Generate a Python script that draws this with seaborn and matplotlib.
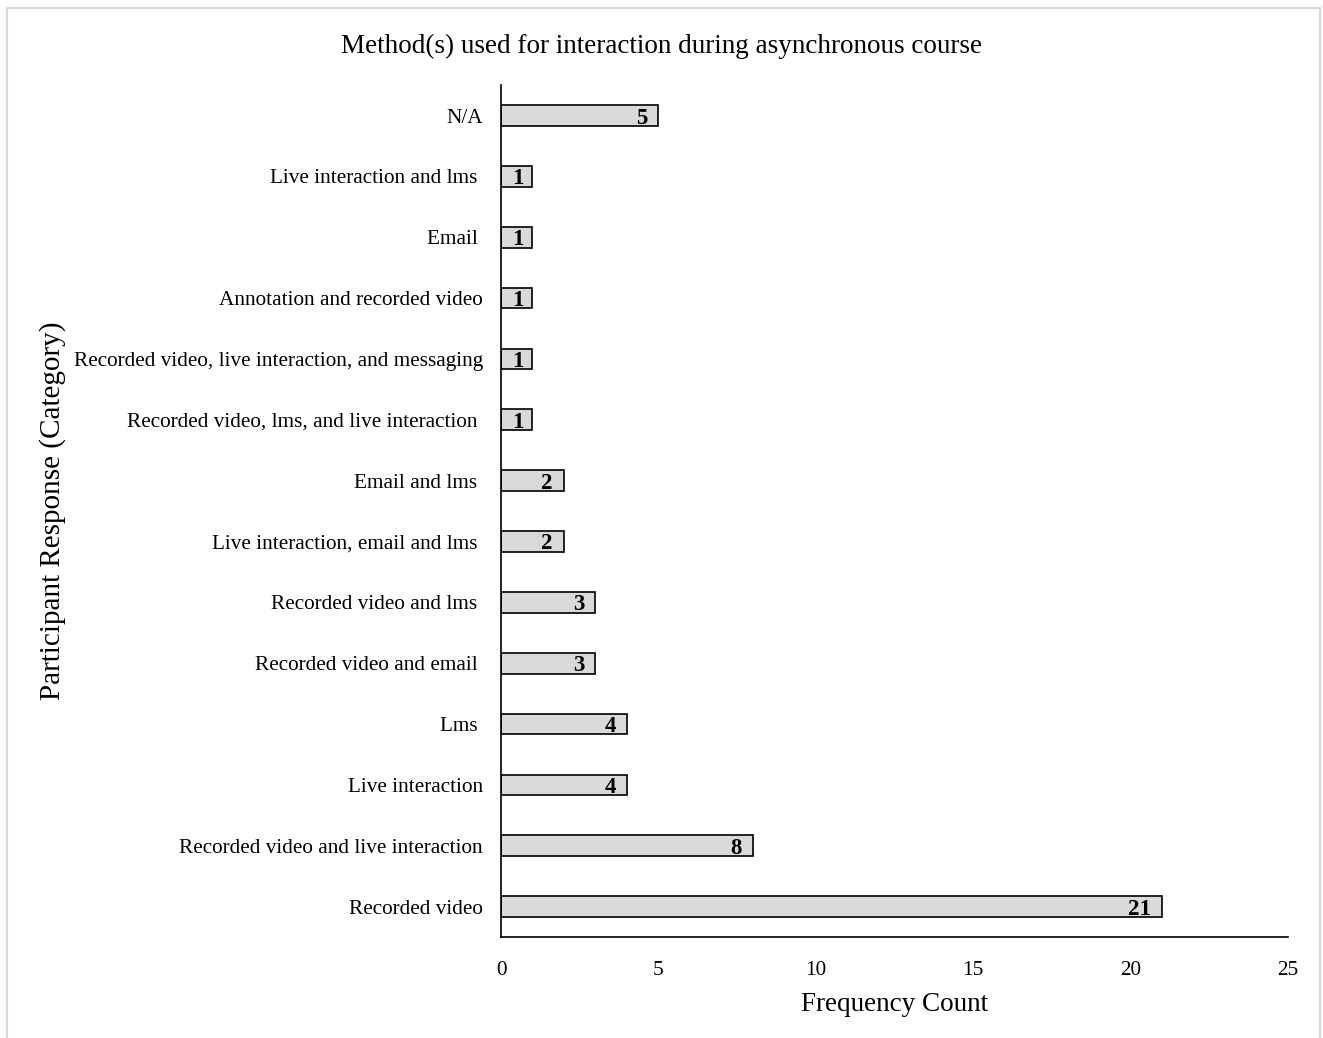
import matplotlib
matplotlib.use("Agg")
import matplotlib.pyplot as plt
import seaborn as sns
import pandas as pd
from matplotlib.patches import Rectangle
from matplotlib.transforms import offset_copy

sns.set_theme(style="white")
plt.rcParams["font.family"] = ["Liberation Serif", "DejaVu Serif"]
plt.rcParams["text.color"] = "black"
plt.rcParams["axes.labelcolor"] = "black"
plt.rcParams["xtick.color"] = "black"
plt.rcParams["ytick.color"] = "black"

# Survey responses (top to bottom) and their counts
categories = [
    "N/A",
    "Live interaction and lms ",
    "Email ",
    "Annotation and recorded video",
    "Recorded video, live interaction, and messaging",
    "Recorded video, lms, and live interaction ",
    "Email and lms ",
    "Live interaction, email and lms ",
    "Recorded video and lms ",
    "Recorded video and email ",
    "Lms ",
    "Live interaction",
    "Recorded video and live interaction",
    "Recorded video",
]
counts = [5, 1, 1, 1, 1, 1, 2, 2, 3, 3, 4, 4, 8, 21]
x_ticks = [0, 5, 10, 15, 20, 25]

df = pd.DataFrame({"category": categories, "count": counts})

fig = plt.figure(figsize=(13.23, 10.38), dpi=100)
ax = fig.add_axes([0.3787, 0.0973, 0.5948, 0.8207])

sns.barplot(data=df, y="category", x="count", order=categories,
            color="#d9d9d9", edgecolor="black", linewidth=1.2,
            width=0.34, saturation=1, ax=ax)

ax.set_xlim(0, 25)
ax.set_ylim(len(categories) - 0.5, -0.5)
ax.set_xticks(x_ticks)
ax.set_xticklabels([str(t) for t in x_ticks], fontsize=15.3)
ax.tick_params(axis="x", length=0, pad=17)
ax.tick_params(axis="y", length=0, pad=13, labelsize=15.3)

for side in ("top", "right"):
    ax.spines[side].set_visible(False)
for side in ("left", "bottom"):
    ax.spines[side].set_color("black")
    ax.spines[side].set_linewidth(1.2)

# Bold value labels just inside the end of each bar
for i, v in enumerate(counts):
    shift = -11 if v > 1 else -9
    trans = offset_copy(ax.transData, fig=fig, x=shift, y=0, units="dots")
    ax.text(v, i, str(v), ha="right", va="center_baseline", fontsize=16.5,
            fontweight="bold", color="black", transform=trans)

ax.set_xlabel("Frequency Count", fontsize=19.5, labelpad=9)
ax.set_ylabel("Participant Response (Category)", fontsize=21, labelpad=0)
ax.yaxis.set_label_coords(-0.553, 0.5)

fig.suptitle("Method(s) used for interaction during asynchronous course",
             fontsize=19.5, x=0.5, y=0.967)

# Light frame around the figure
fig.patches.append(Rectangle((7 / 1323, -0.01), (1320 - 7) / 1323, 1.01 - 8 / 1038,
                             transform=fig.transFigure, fill=False,
                             edgecolor="#d9d9d9", linewidth=1.5))

fig.savefig("out.png", dpi=100)
